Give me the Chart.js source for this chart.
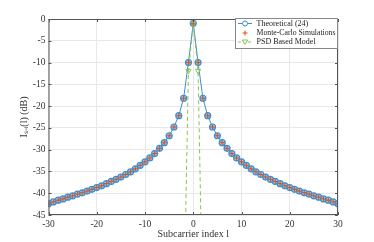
<!DOCTYPE html>
<html>
<head>
<meta charset="utf-8">
<script src="https://cdn.jsdelivr.net/npm/chart.js@4"></script>
<style>
  html, body { margin: 0; padding: 0; background: #fff; }
  #wrap { width: 374px; height: 242px; }
</style>
</head>
<body>
<div id="wrap"><canvas id="ici-chart" width="374" height="242"></canvas></div>
<script>
// subcarrier index l
const subcarriers = [-30,-29,-28,-27,-26,-25,-24,-23,-22,-21,-20,-19,-18,-17,-16,-15,-14,-13,-12,-11,-10,-9,-8,-7,-6,-5,-4,-3,-2,-1,
    0,1,2,3,4,5,6,7,8,9,10,11,12,13,14,15,16,17,18,19,20,21,22,23,24,25,26,27,28,29,30];

// Theoretical (24), dB
const theoretical = [-42.4,-42.0,-41.6,-41.3,-40.9,-40.6,-40.2,-39.9,-39.5,-39.1,-38.7,-38.3,-37.8,-37.3,-36.8,-36.3,-35.7,-35.1,-34.4,-33.6,
    -32.8,-31.9,-30.9,-29.7,-28.4,-26.8,-24.8,-22.2,-18.2,-10.0,
    -1.0,
    -10.0,-18.2,-22.2,-24.8,-26.8,-28.4,-29.7,-30.9,-31.9,-32.8,-33.6,-34.4,-35.1,-35.7,-36.3,-36.8,-37.3,-37.8,-38.3,-38.7,
    -39.1,-39.5,-39.9,-40.2,-40.6,-40.9,-41.3,-41.6,-42.0,-42.4];

// Monte-Carlo simulations, dB
const monteCarlo = [-42.5,-42.0,-41.6,-41.3,-40.9,-40.6,-40.2,-39.9,-39.5,-39.1,-38.7,-38.3,-37.8,-37.3,-36.8,-36.3,-35.7,-35.1,-34.4,-33.6,
    -32.8,-31.9,-30.9,-29.7,-28.4,-26.8,-24.8,-22.2,-18.2,-10.0,
    -1.1,
    -10.0,-18.2,-22.2,-24.8,-26.8,-28.4,-29.7,-30.9,-31.9,-32.8,-33.6,-34.4,-35.1,-35.7,-36.3,-36.8,-37.3,-37.8,-38.3,-38.7,
    -39.1,-39.5,-39.9,-40.2,-40.6,-40.9,-41.3,-41.6,-42.0,-42.5];

// PSD based model (falls off the axis beyond |l| = 1)
const psdSubcarriers = [-2, -1, 0, 1, 2];
const psdModel = [-70, -11.9, -1.0, -11.9, -70];

const xTicks = [-30, -20, -10, 0, 10, 20, 30];
const yTicks = [0, -5, -10, -15, -20, -25, -30, -35, -40, -45];

const FONT = 'Liberation Serif, "Times New Roman", serif';
const BLUE = '#3d8fd1';
const ORANGE = '#d95319';
const GREEN = '#8cc152';
const AXIS = '#555555';

function toPoints(xs, ys) {
    return xs.map((x, i) => ({ x: x, y: ys[i] }));
}

// Box, inward ticks and legend like the original figure
const figurePlugin = {
    id: 'figure',
    afterDraw(chart) {
        const ctx = chart.ctx;
        const a = chart.chartArea;
        const xs = chart.scales.x, ys = chart.scales.y;
        ctx.save();
        ctx.strokeStyle = AXIS;
        ctx.lineWidth = 1;
        ctx.strokeRect(a.left + 0.5, a.top + 0.5, a.right - a.left - 1, a.bottom - a.top - 1);
        ctx.beginPath();
        xTicks.forEach(t => {
            const px = Math.round(xs.getPixelForValue(t)) + 0.5;
            ctx.moveTo(px, a.bottom); ctx.lineTo(px, a.bottom - 3);
            ctx.moveTo(px, a.top); ctx.lineTo(px, a.top + 3);
        });
        yTicks.forEach(t => {
            const py = Math.round(ys.getPixelForValue(t)) + 0.5;
            ctx.moveTo(a.left, py); ctx.lineTo(a.left + 3, py);
            ctx.moveTo(a.right, py); ctx.lineTo(a.right - 3, py);
        });
        ctx.stroke();

        // legend
        const lx = 235, ly = 18, lw = 103, lh = 31;
        ctx.fillStyle = '#fff';
        ctx.fillRect(lx, ly, lw, lh);
        ctx.strokeStyle = '#888';
        ctx.strokeRect(lx + 0.5, ly + 0.5, lw - 1, lh - 1);
        const rows = [23.5, 33, 42];
        const names = chart.data.datasets.map(d => d.label);
        ctx.font = '8px ' + FONT;
        ctx.fillStyle = '#222';
        ctx.textBaseline = 'middle';
        names.forEach((n, i) => ctx.fillText(n, 256.5, rows[i], 79));

        // theoretical sample
        ctx.strokeStyle = BLUE;
        ctx.lineWidth = 1;
        ctx.beginPath(); ctx.moveTo(238, rows[0]); ctx.lineTo(252, rows[0]); ctx.stroke();
        ctx.beginPath(); ctx.arc(245, rows[0], 2.5, 0, Math.PI * 2);
        ctx.fillStyle = '#fff'; ctx.fill(); ctx.stroke();
        // monte-carlo sample
        ctx.strokeStyle = ORANGE;
        ctx.beginPath();
        ctx.moveTo(242.5, rows[1]); ctx.lineTo(247.5, rows[1]);
        ctx.moveTo(245, rows[1] - 2.5); ctx.lineTo(245, rows[1] + 2.5);
        ctx.stroke();
        // psd sample
        ctx.strokeStyle = GREEN;
        ctx.setLineDash([3, 2]);
        ctx.beginPath(); ctx.moveTo(238, rows[2]); ctx.lineTo(252, rows[2]); ctx.stroke();
        ctx.setLineDash([]);
        ctx.beginPath();
        ctx.moveTo(242.3, rows[2] - 2); ctx.lineTo(247.7, rows[2] - 2); ctx.lineTo(245, rows[2] + 2.5); ctx.closePath();
        ctx.fillStyle = '#fff'; ctx.fill(); ctx.stroke();
        ctx.restore();
    }
};

const canvas = document.getElementById('ici-chart');
new Chart(canvas, {
    type: 'line',
    data: {
        datasets: [
            {
                label: 'Theoretical (24)',
                data: toPoints(subcarriers, theoretical),
                borderColor: BLUE,
                borderWidth: 1,
                pointStyle: 'circle',
                pointRadius: 3,
                pointBorderWidth: 1.2,
                pointBorderColor: BLUE,
                pointBackgroundColor: 'rgba(120,178,225,0.75)',
                order: 3
            },
            {
                label: 'Monte-Carlo Simulations',
                data: toPoints(subcarriers, monteCarlo),
                showLine: false,
                borderColor: ORANGE,
                pointStyle: 'cross',
                pointRadius: 2.5,
                pointBorderWidth: 1,
                pointBorderColor: ORANGE,
                order: 1
            },
            {
                label: 'PSD Based Model',
                data: toPoints(psdSubcarriers, psdModel),
                borderColor: GREEN,
                borderWidth: 1,
                borderDash: [4, 3],
                pointStyle: 'triangle',
                rotation: 180,
                pointRadius: 3,
                pointBorderWidth: 1,
                pointBorderColor: GREEN,
                pointBackgroundColor: 'rgba(255,255,255,0)',
                order: 2
            }
        ]
    },
    options: {
        responsive: false,
        animation: false,
        layout: { padding: { left: 14, right: 36, top: 19, bottom: 0 } },
        plugins: {
            legend: { display: false },
            tooltip: { enabled: false }
        },
        scales: {
            x: {
                type: 'linear',
                min: -30,
                max: 30,
                afterFit: s => { s.height = 27; },
                afterBuildTicks: s => { s.ticks = xTicks.map(v => ({ value: v })); },
                grid: { color: '#e8e8e8', drawTicks: false },
                border: { display: false },
                ticks: { color: '#333', padding: 4, font: { family: FONT, size: 9.5 } },
                title: {
                    display: true,
                    text: 'Subcarrier index l',
                    color: '#333',
                    font: { family: FONT, size: 10 },
                    padding: { top: 0, bottom: 2 }
                }
            },
            y: {
                min: -45,
                max: 0,
                afterFit: s => { s.width = 34.5; },
                afterBuildTicks: s => { s.ticks = yTicks.map(v => ({ value: v })); },
                grid: { color: '#e8e8e8', drawTicks: false },
                border: { display: false },
                ticks: { color: '#333', padding: 3, font: { family: FONT, size: 9.5 } },
                title: {
                    display: true,
                    text: 'Iₛ₋ᵢ(l) (dB)',
                    color: '#333',
                    font: { family: FONT, size: 10 },
                    padding: { top: 4, bottom: 0 }
                }
            }
        }
    },
    plugins: [figurePlugin]
});
</script>
</body>
</html>
